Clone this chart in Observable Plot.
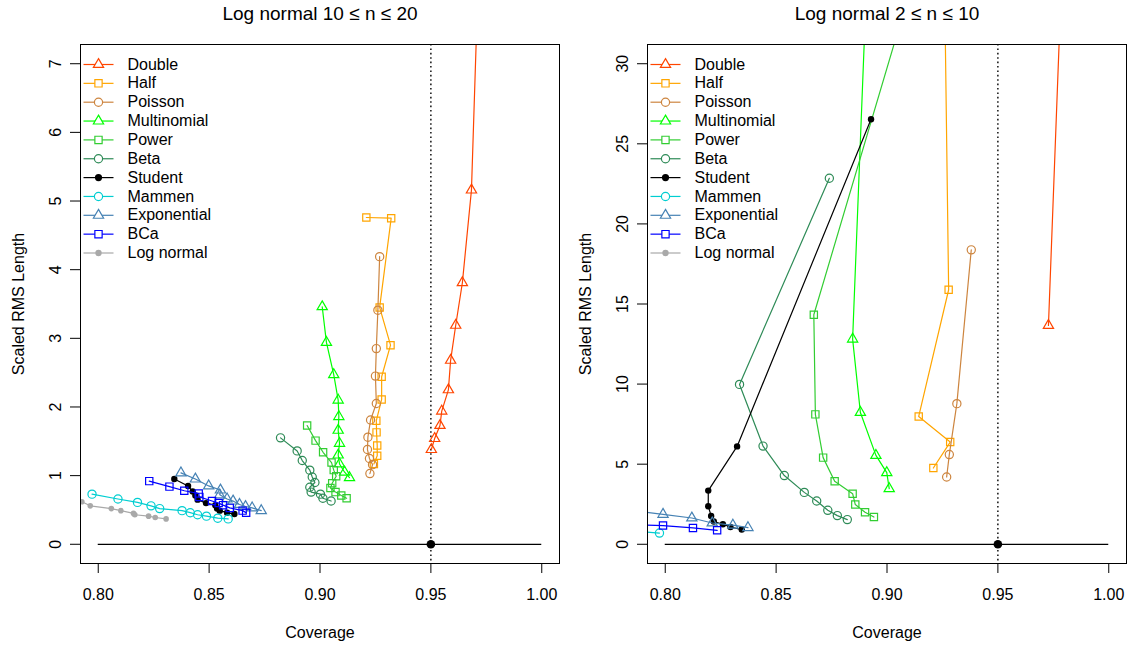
<!DOCTYPE html>
<html>
<head>
<meta charset="utf-8">
<script src="https://cdn.jsdelivr.net/npm/d3@7"></script>
<script src="https://cdn.jsdelivr.net/npm/@observablehq/plot@0.6"></script>
<style>
  body { margin: 0; background: #fff; }
  #wrap { display: flex; width: 1129px; height: 646px; }
  #wrap svg { display: block; }
</style>
</head>
<body>
<div id="wrap"></div>
<script>
// ---- legend / series definitions ----
const methods = ["Double","Half","Poisson","Multinomial","Power","Beta","Student","Mammen","Exponential","BCa","Log normal"];
const colors  = ["#FF4500","#FFA500","#CD853F","#00FF00","#32CD32","#2E8B57","#000000","#00CED1","#4682B4","#0000FF","#A9A9A9"];
const symbols = ["triangle","square","circle","triangle","square","circle","circle","circle","triangle","square","circle"];
const filled  = [false,false,false,false,false,false,true,false,false,false,true];

// ---- axes ----
const xTicks = [0.80, 0.85, 0.90, 0.95, 1.00];
const leftYTicks = [0, 1, 2, 3, 4, 5, 6, 7];
const rightYTicks = [0, 5, 10, 15, 20, 25, 30];
const nominalCoverage = 0.95;
const baselineSpan = [0.80, 1.00];

// ---- left panel: Log normal 10 <= n <= 20  ([coverage, scaled RMS length]) ----
const leftDouble = [[0.9721,9.0],[0.9683,5.16],[0.9642,3.81],[0.9612,3.19],[0.9589,2.68],[0.9579,2.25],[0.9549,1.94],[0.9541,1.73],[0.9517,1.54],[0.9502,1.38]];
const leftHalf = [[0.9209,4.76],[0.9321,4.75],[0.9269,3.45],[0.9318,2.90],[0.9278,2.44],[0.9278,2.11],[0.9254,1.80],[0.9255,1.63],[0.9258,1.44],[0.9258,1.29],[0.9243,1.17]];
const leftPoisson = [[0.9269,4.19],[0.9261,3.41],[0.9254,2.85],[0.9250,2.45],[0.9254,2.05],[0.9228,1.81],[0.9216,1.56],[0.9214,1.38],[0.9223,1.25],[0.9237,1.16],[0.9225,1.03]];
const leftMultinomial = [[0.9010,3.46],[0.9029,2.94],[0.9062,2.47],[0.9082,2.10],[0.9085,1.86],[0.9082,1.66],[0.9088,1.47],[0.9082,1.30],[0.9088,1.17],[0.9111,1.05],[0.9133,0.97]];
const leftPower = [[0.8942,1.73],[0.8980,1.51],[0.9014,1.34],[0.9052,1.19],[0.9062,1.08],[0.9073,0.99],[0.9055,0.89],[0.9047,0.82],[0.9070,0.76],[0.9096,0.71],[0.9120,0.67]];
const leftBeta = [[0.8822,1.55],[0.8897,1.36],[0.8920,1.22],[0.8954,1.08],[0.8965,0.98],[0.8977,0.90],[0.8954,0.83],[0.8960,0.76],[0.9002,0.73],[0.9013,0.67],[0.9050,0.63]];
const leftStudent = [[0.8343,0.95],[0.8405,0.85],[0.8426,0.77],[0.8438,0.71],[0.8448,0.65],[0.8486,0.60],[0.8528,0.57],[0.8536,0.52],[0.8548,0.49],[0.8581,0.46],[0.8614,0.44]];
const leftMammen = [[0.7972,0.73],[0.8089,0.66],[0.8177,0.61],[0.8238,0.56],[0.8277,0.52],[0.8378,0.49],[0.8415,0.46],[0.8448,0.43],[0.8488,0.41],[0.8539,0.38],[0.8586,0.37]];
const leftExponential = [[0.8373,1.04],[0.8438,0.95],[0.8498,0.85],[0.8551,0.79],[0.8548,0.72],[0.8581,0.66],[0.8608,0.63],[0.8637,0.58],[0.8664,0.55],[0.8694,0.53],[0.8735,0.49]];
const leftBCa = [[0.8230,0.92],[0.8321,0.84],[0.8388,0.78],[0.8453,0.74],[0.8456,0.69],[0.8513,0.63],[0.8543,0.60],[0.8563,0.57],[0.8593,0.53],[0.8651,0.49],[0.8667,0.46]];
const leftLogNormal = [[0.7926,0.62],[0.7964,0.56],[0.8059,0.52],[0.8102,0.49],[0.8159,0.45],[0.8165,0.43],[0.8227,0.41],[0.8257,0.39],[0.8306,0.37]];

// ---- right panel: Log normal 2 <= n <= 10 ----
const rightDouble = [[0.9800,40.0],[0.9728,13.66]];
const rightHalf = [[0.9250,45.0],[0.9278,15.89],[0.9143,7.98],[0.9285,6.38],[0.9209,4.76]];
const rightPoisson = [[0.9380,18.38],[0.9315,8.78],[0.9281,5.60],[0.9269,4.20]];
const rightMultinomial = [[0.8936,45.0],[0.8845,12.81],[0.8880,8.23],[0.8950,5.55],[0.8999,4.47],[0.9010,3.47]];
const rightPower = [[0.9220,40.0],[0.8670,14.33],[0.8677,8.11],[0.8712,5.41],[0.8764,3.93],[0.8845,3.16],[0.8857,2.48],[0.8901,2.00],[0.8941,1.70]];
const rightBeta = [[0.8740,22.85],[0.8335,9.98],[0.8441,6.13],[0.8537,4.29],[0.8627,3.24],[0.8683,2.70],[0.8733,2.12],[0.8776,1.79],[0.8821,1.54]];
const rightStudent = [[0.8928,26.53],[0.8324,6.11],[0.8194,3.35],[0.8194,2.37],[0.8207,1.77],[0.8219,1.42],[0.8260,1.25],[0.8294,1.08],[0.8345,0.92]];
const rightMammen = [[0.7850,0.82],[0.7974,0.70]];
const rightExponential = [[0.7850,2.10],[0.7990,1.87],[0.8120,1.64],[0.8212,1.33],[0.8305,1.19],[0.8373,1.04]];
const rightBCa = [[0.7850,1.21],[0.7990,1.17],[0.8125,1.02],[0.8234,0.87]];
const rightLogNormal = [];

const leftSeries = [leftDouble,leftHalf,leftPoisson,leftMultinomial,leftPower,leftBeta,leftStudent,leftMammen,leftExponential,leftBCa,leftLogNormal];
const rightSeries = [rightDouble,rightHalf,rightPoisson,rightMultinomial,rightPower,rightBeta,rightStudent,rightMammen,rightExponential,rightBCa,rightLogNormal];

const FONT = "'Liberation Sans', Arial, Helvetica, sans-serif";
const lineSymbol = { draw(ctx) { ctx.moveTo(-15, 0); ctx.lineTo(15, 0); } };

function symR(i, legend) {
  if (methods[i] === "Student") return legend ? 3.6 : 3.2;
  if (methods[i] === "Log normal") return legend ? 3.2 : 2.8;
  if (symbols[i] === "circle") return 4.1;
  if (symbols[i] === "triangle") return 3.8;
  return 4.1;
}

function panel({title, series, yDomain, yTicks, width, marginLeft, marginRight}) {
  const marks = [];
  marks.push(Plot.ruleX([nominalCoverage], {stroke: "black", strokeWidth: 1.4, strokeDasharray: "1.6,2.8"}));
  marks.push(Plot.ruleY([{y: 0, x1: baselineSpan[0], x2: baselineSpan[1]}], {y: "y", x1: "x1", x2: "x2", stroke: "black", strokeWidth: 1.2}));
  series.forEach((arr, i) => {
    const rows = arr.map(([c, l]) => ({cov: c, len: l}));
    if (!rows.length) return;
    marks.push(Plot.line(rows, {x: "cov", y: "len", stroke: colors[i], strokeWidth: 1.2, clip: true}));
    marks.push(Plot.dot(rows, {
      x: "cov", y: "len", symbol: symbols[i], r: symR(i, false),
      stroke: filled[i] ? "none" : colors[i], fill: filled[i] ? colors[i] : "none",
      strokeWidth: 1.2, clip: true
    }));
  });
  marks.push(Plot.dot([{x: nominalCoverage, y: 0}], {x: "x", y: "y", r: 4.3, fill: "black"}));
  marks.push(Plot.frame({stroke: "black", strokeWidth: 1}));
  // axes
  marks.push(Plot.axisX({ticks: xTicks, tickFormat: d3.format(".2f"), tickSize: 10, tickPadding: 15, label: null, fontSize: 16}));
  marks.push(Plot.axisY({ticks: yTicks, tickSize: 10, tickFormat: () => "", label: null}));
  marks.push(Plot.text(yTicks, {y: d => d, text: d => String(d), frameAnchor: "left", rotate: -90, textAnchor: "middle", lineAnchor: "bottom", dx: -20, fontSize: 16, fill: "black"}));
  // labels and title
  marks.push(Plot.text([title], {frameAnchor: "top", dy: -31, lineAnchor: "middle", fontSize: 19, fill: "black"}));
  marks.push(Plot.text(["Coverage"], {frameAnchor: "bottom", dy: 69, lineAnchor: "middle", fontSize: 16, fill: "black"}));
  marks.push(Plot.text(["Scaled RMS Length"], {frameAnchor: "left", rotate: -90, dx: -62, textAnchor: "middle", lineAnchor: "middle", fontSize: 16, fill: "black"}));
  // legend
  methods.forEach((m, i) => {
    const dy = 20 + i * 18.85;
    marks.push(Plot.dot([0], {frameAnchor: "top-left", dx: 18, dy, symbol: lineSymbol, r: 5, stroke: colors[i], fill: "none", strokeWidth: 1.2}));
    marks.push(Plot.dot([0], {frameAnchor: "top-left", dx: 18, dy, symbol: symbols[i], r: symR(i, true),
      stroke: filled[i] ? "none" : colors[i], fill: filled[i] ? colors[i] : "white", strokeWidth: 1.2}));
    marks.push(Plot.text([m], {frameAnchor: "top-left", dx: 47, dy, textAnchor: "start", lineAnchor: "middle", fontSize: 16, fill: "black"}));
  });
  return Plot.plot({
    width, height: 646,
    marginLeft, marginRight, marginTop: 44, marginBottom: 83,
    x: {domain: [0.792, 1.008]},
    y: {domain: yDomain},
    style: {fontFamily: FONT, fontSize: "16px", color: "black", background: "white", overflow: "visible"},
    marks
  });
}

const wrap = document.getElementById("wrap");
wrap.appendChild(panel({title: "Log normal 10 \u2264 n \u2264 20", series: leftSeries, yDomain: [-0.28, 7.28], yTicks: leftYTicks, width: 566, marginLeft: 80, marginRight: 7}));
wrap.appendChild(panel({title: "Log normal 2 \u2264 n \u2264 10", series: rightSeries, yDomain: [-1.2, 31.2], yTicks: rightYTicks, width: 563, marginLeft: 81, marginRight: 3}));
</script>
</body>
</html>
